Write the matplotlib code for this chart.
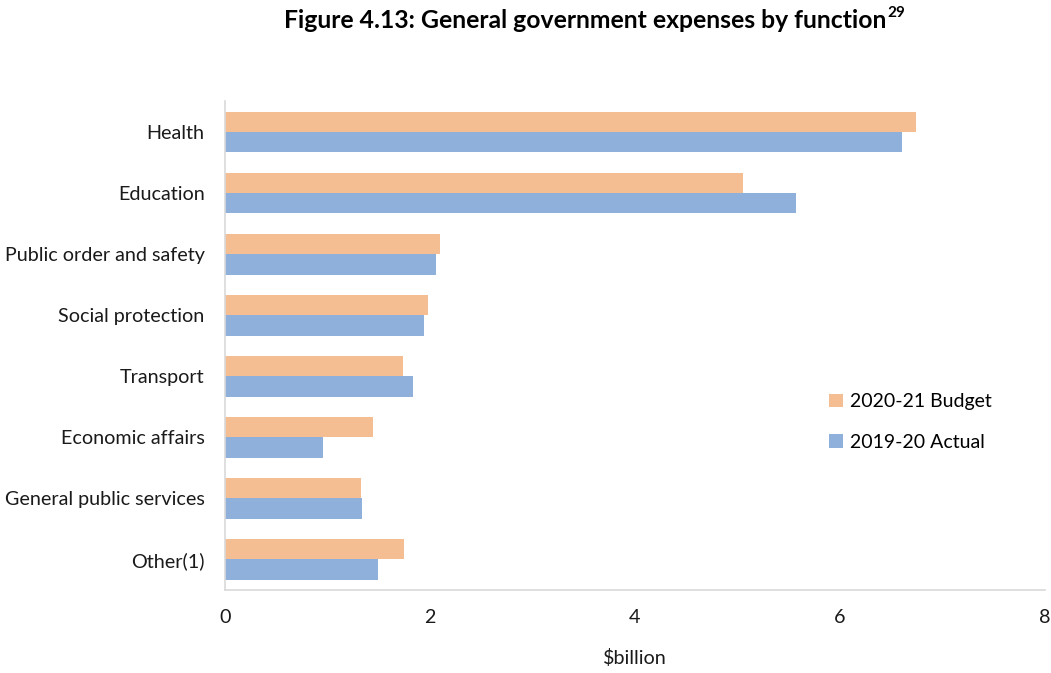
import matplotlib.pyplot as plt
import numpy as np

plt.rcParams['font.family'] = ['Lato', 'DejaVu Sans']

categories = ["Health", "Education", "Public order and safety", "Social protection",
              "Transport", "Economic affairs", "General public services", "Other(1)"]
budget_2021 = [6.74, 5.06, 2.10, 1.98, 1.74, 1.45, 1.33, 1.75]
actual_2020 = [6.61, 5.57, 2.06, 1.94, 1.84, 0.96, 1.34, 1.50]
xticks = [0, 2, 4, 6, 8]

orange = '#F5BE92'
blue = '#8FB0DB'
txt = '#1a1a1a'

fig = plt.figure(figsize=(10.51, 6.73), dpi=100)
ax = fig.add_axes([0.2138, 0.1233, 0.7802, 0.7259])

y = np.arange(len(categories))
h = 1 / 3
ax.barh(y - h / 2, budget_2021, height=h, color=orange, label="2020-21 Budget")
ax.barh(y + h / 2, actual_2020, height=h, color=blue, label="2019-20 Actual")

ax.set_ylim(len(categories) - 0.5, -0.5)
ax.set_xlim(0, 8)
ax.set_yticks(y)
ax.set_yticklabels(categories, fontsize=14.2, color=txt)
ax.set_xticks(xticks)
ax.set_xticklabels([str(t) for t in xticks], fontsize=14.2, color=txt)
ax.tick_params(axis='both', length=0)
ax.tick_params(axis='y', pad=14.5)
ax.tick_params(axis='x', pad=14)

for s in ['top', 'right']:
    ax.spines[s].set_visible(False)
for s in ['left', 'bottom']:
    ax.spines[s].set_color('#D9D9D9')
    ax.spines[s].set_linewidth(1.2)

ax.set_xlabel("$billion", fontsize=14.2, color=txt, labelpad=16)

ax.legend(loc='center left', bbox_to_anchor=(0.7155, 0.344), frameon=False, fontsize=14,
          handlelength=0.7, handleheight=0.7, handletextpad=0.4, labelspacing=1.2)

# title with superscript footnote number
title = fig.text(0.5566, 0.969, "Figure 4.13: General government expenses by function",
                 ha='center', va='center', fontsize=17.8, fontweight='bold', color='#000000')
fig.canvas.draw()
bb = title.get_window_extent()
x_end = bb.x1 / fig.bbox.width
fig.text(x_end + 0.001, 0.981, "29", ha='left', va='center', fontsize=11,
         fontweight='bold', color='#000000')

fig.savefig("out.png", dpi=100, facecolor='white')
